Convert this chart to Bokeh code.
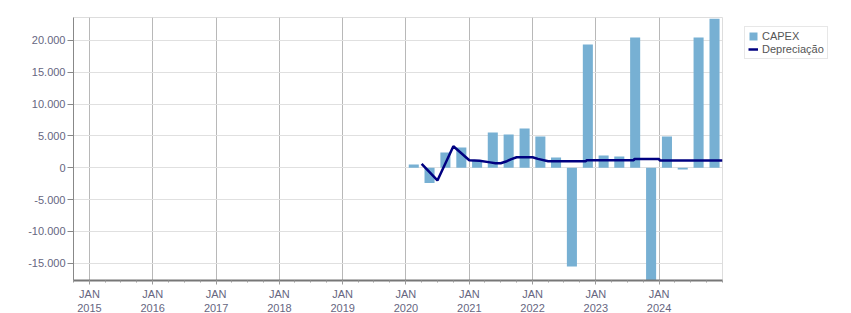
from datetime import datetime
import pandas as pd
from bokeh.plotting import figure
from bokeh.models import Range1d, FixedTicker, CustomJSTickFormatter, Legend, LegendItem
from bokeh.embed import file_html
from bokeh.resources import INLINE

# ---- data ----
quarters = ["2020Q1", "2020Q2", "2020Q3", "2020Q4",
            "2021Q1", "2021Q2", "2021Q3", "2021Q4",
            "2022Q1", "2022Q2", "2022Q3", "2022Q4",
            "2023Q1", "2023Q2", "2023Q3", "2023Q4",
            "2024Q1", "2024Q2", "2024Q3", "2024Q4"]
capex = [500, -2400, 2400, 3200,
         1100, 5550, 5240, 6180,
         4920, 1600, -15500, 19360,
         1940, 1780, 20450, -19000,
         4920, -250, 20450, 23400]

dep_dates = ["2020-04-01", "2020-07-01", "2020-10-01", "2021-01-01",
             "2021-03-01", "2021-05-01", "2021-06-01", "2021-07-01",
             "2021-08-01", "2021-09-01", "2021-10-01", "2022-01-01",
             "2022-02-01", "2022-04-01", "2022-11-05", "2022-11-08",
             "2023-08-08", "2023-08-11", "2024-01-01", "2024-01-04",
             "2025-01-01"]
dep_values = [630, -1990, 3390, 1190,
              1100, 850, 720, 720,
              980, 1370, 1660, 1660,
              1400, 1030, 1030, 1180,
              1180, 1390, 1390, 1150,
              1150]

year_ticks = list(range(2015, 2025))
y_ticks = [-15000, -10000, -5000, 0, 5000, 10000, 15000, 20000]
month_names = ["JAN", "FEV", "MAR", "ABR", "MAI", "JUN", "JUL", "AGO", "SET", "OUT", "NOV", "DEZ"]

# ---- derived ----
per = pd.PeriodIndex(quarters, freq="Q")
bar_x = per.start_time + (per.end_time - per.start_time) / 2
dep_x = pd.to_datetime(dep_dates)
DAY = 86400000
major = [pd.Timestamp(f"{y}-01-01").value / 1e6 for y in year_ticks]
minor = [pd.Timestamp(f"{y}-{m:02d}-01").value / 1e6
         for y in range(2014, 2026) for m in (1, 4, 7, 10)]

FONT = "Liberation Sans"
TICK_COLOR = "#66667f"

p = figure(x_axis_type="datetime", frame_width=649, frame_height=263,
           min_border_left=73, min_border_top=17, min_border_right=129, min_border_bottom=33,
           x_range=Range1d(datetime(2014, 10, 1), datetime(2025, 1, 1)),
           y_range=Range1d(-17700, 23600),
           output_backend="svg", toolbar_location=None)
p.background_fill_color = "white"
p.border_fill_color = "white"
p.outline_line_color = "#dddddd"

bars = p.vbar(x=bar_x, top=capex, bottom=0, width=58 * DAY,
              fill_color="#77b0d3", line_color=None)
line = p.line(x=dep_x, y=dep_values, line_color="#000080", line_width=2.5)

# axes
xt = FixedTicker(ticks=major, minor_ticks=minor)
p.xaxis.ticker = xt
p.xgrid.ticker = FixedTicker(ticks=major)
p.xaxis.formatter = CustomJSTickFormatter(
    args=dict(names=month_names),
    code="const d = new Date(tick); return names[d.getUTCMonth()] + '\\n' + d.getUTCFullYear();")
p.yaxis.ticker = FixedTicker(ticks=y_ticks)
p.yaxis.formatter = CustomJSTickFormatter(code="""
const s = Math.abs(Math.round(tick)).toString().replace(/\\B(?=(\\d{3})+(?!\\d))/g, '.');
return (tick < 0 ? '-' : '') + s;
""")

for ax in (p.xaxis, p.yaxis):
    ax.major_label_text_font = FONT
    ax.major_label_text_font_size = "11px"
    ax.major_label_text_color = TICK_COLOR
    ax.major_tick_in = 0
    ax.minor_tick_in = 0

p.yaxis.axis_line_color = "#888888"
p.yaxis.major_tick_line_color = "#888888"
p.yaxis.major_tick_out = 6
p.yaxis.minor_tick_out = 0
p.yaxis.major_label_standoff = 2

p.xaxis.axis_line_color = "#777777"
p.xaxis.axis_line_width = 2
p.xaxis.major_tick_line_color = "#999999"
p.xaxis.minor_tick_line_color = "#999999"
p.xaxis.major_tick_out = 4
p.xaxis.minor_tick_out = 2
p.xaxis.major_label_standoff = 3

p.xgrid.grid_line_color = "#b8b8b8"
p.ygrid.grid_line_color = "#e0e0e0"

legend = Legend(items=[LegendItem(label="CAPEX", renderers=[bars]),
                       LegendItem(label="Depreciação", renderers=[line])],
                location=(22, 221), margin=0, padding=3, spacing=1,
                glyph_width=10, glyph_height=10, label_height=11, label_standoff=4,
                label_text_font=FONT, label_text_font_size="11px", label_text_color="#555555",
                border_line_color="#d0d0d0", background_fill_color="white")
p.add_layout(legend, "right")

open("out.html", "w").write(file_html(p, INLINE))
